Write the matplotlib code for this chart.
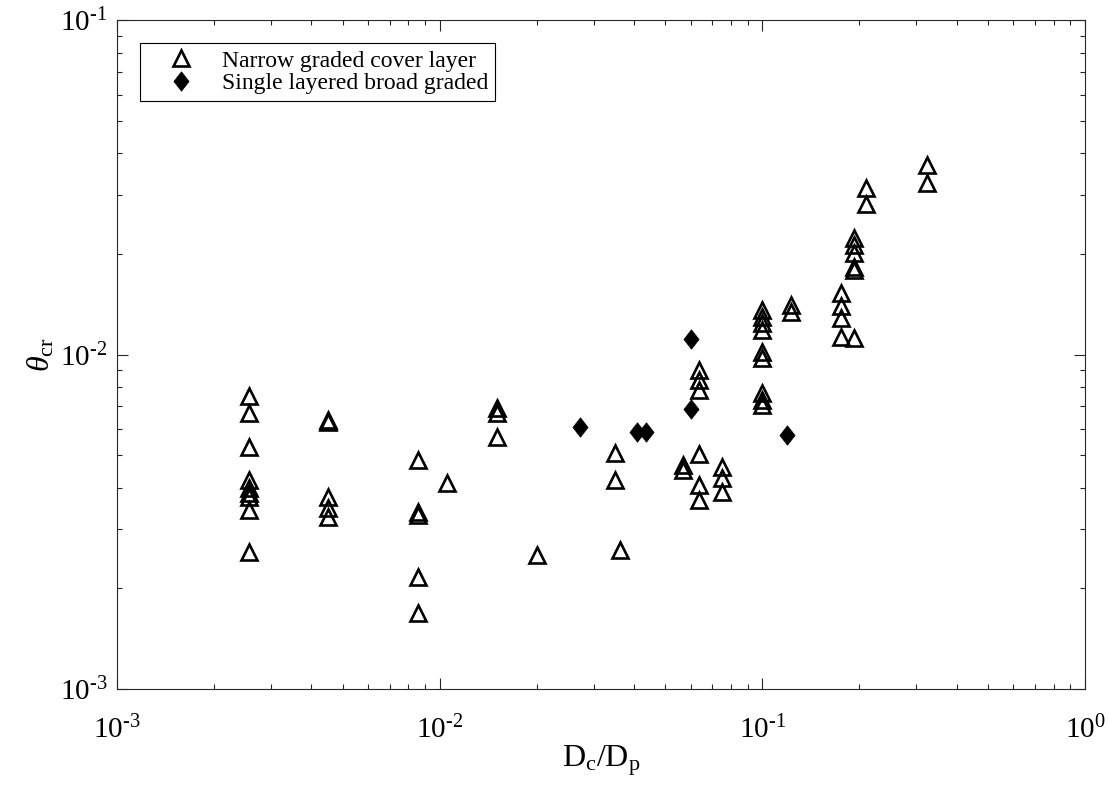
import matplotlib
matplotlib.use("Agg")
import matplotlib.pyplot as plt
import numpy as np

plt.rcParams['font.family'] = ['Liberation Serif', 'DejaVu Serif']
plt.rcParams['mathtext.fontset'] = 'custom'
plt.rcParams['mathtext.rm'] = 'Liberation Serif'
plt.rcParams['mathtext.it'] = 'Liberation Serif:italic'

# narrow graded cover layer (triangles)
narrow_x = [0.00257] * 9 + [0.0045] * 5 + [0.00857] * 5 + [0.01054] + [0.01506] * 3 + [0.02003] \
    + [0.0349] * 2 + [0.0362] + [0.0568] * 2 + [0.0636] * 6 + [0.075] * 3 + [0.0997] * 9 \
    + [0.1227] * 2 + [0.1752] * 4 + [0.1923] * 6 + [0.2094] * 2 + [0.3236] * 2
narrow_y = [0.00753, 0.00669, 0.0053, 0.00422, 0.00385, 0.00375, 0.00343, 0.00257, 0.0040,
            0.0064, 0.0063, 0.00375, 0.00348, 0.00327,
            0.00484, 0.00338, 0.00332, 0.00216, 0.00169,
            0.00413,
            0.00693, 0.00669, 0.00568,
            0.00252,
            0.00508, 0.00422,
            0.0026,
            0.00468, 0.00452,
            0.009, 0.0084, 0.00785, 0.00504, 0.00407, 0.00368,
            0.00461, 0.00428, 0.00388,
            0.0136, 0.01297, 0.01245, 0.01186, 0.01019, 0.00978, 0.00768, 0.00732, 0.00708,
            0.0141, 0.0134,
            0.0153, 0.0140, 0.0129, 0.0113,
            0.0112, 0.0223, 0.0213, 0.0201, 0.0183, 0.0179,
            0.0316, 0.0282,
            0.037, 0.0326]

# single layered broad graded (diamonds)
broad_x = [0.0272, 0.0408, 0.0436, 0.0601, 0.0601, 0.119]
broad_y = [0.00608, 0.00588, 0.00588, 0.01115, 0.00688, 0.00575]

xticks = [1e-3, 1e-2, 1e-1, 1e0]
xticklabels = [r'$10^{\text{-}3}$', r'$10^{\text{-}2}$', r'$10^{\text{-}1}$', r'$10^{0}$']
yticks = [1e-3, 1e-2, 1e-1]
yticklabels = [r'$10^{\text{-}3}$', r'$10^{\text{-}2}$', r'$10^{\text{-}1}$']

fig = plt.figure(figsize=(11.08, 7.91), dpi=100)
ax = fig.add_axes([0.1056, 0.1290, 0.8736, 0.8451])

diamond = [(0, 1), (0.78, 0), (0, -1), (-0.78, 0), (0, 1)]

ax.plot(narrow_x, narrow_y, linestyle='none', marker='^', markersize=12,
        markerfacecolor='none', markeredgecolor='black', markeredgewidth=1.9,
        label='Narrow graded cover layer')
ax.plot(broad_x, broad_y, linestyle='none', marker=diamond, markersize=14,
        markerfacecolor='black', markeredgecolor='black', markeredgewidth=0.5,
        label='Single layered broad graded')

ax.set_xscale('log')
ax.set_yscale('log')
ax.set_xlim(1e-3, 1)
ax.set_ylim(1e-3, 1e-1)
ax.set_xticks(xticks)
ax.set_xticklabels(xticklabels)
ax.set_yticks(yticks)
ax.set_yticklabels(yticklabels)

for s in ax.spines.values():
    s.set_color('0.15')
    s.set_linewidth(0.8)
ax.tick_params(which='both', direction='in', top=True, right=True, color='0.15', width=0.8)
ax.tick_params(which='major', length=8, labelsize=21, pad=7)
ax.tick_params(axis='x', which='major', pad=19)
ax.tick_params(which='minor', length=3.8)

ax.set_xlabel(r'D$_{\rm c}$/D$_{\rm p}$', fontsize=23, labelpad=0)
ax.set_ylabel(r'$\theta_{\rm cr}$', fontsize=23, labelpad=2)

leg = ax.legend(loc='upper left', bbox_to_anchor=(0.0238, 0.9663), fontsize=17,
                fancybox=False, edgecolor='black', framealpha=1, borderaxespad=0,
                handlelength=2.9, handletextpad=0.25, labelspacing=0.05, borderpad=0.3)
leg.get_frame().set_linewidth(0.8)

plt.savefig('out.png', dpi=100)
